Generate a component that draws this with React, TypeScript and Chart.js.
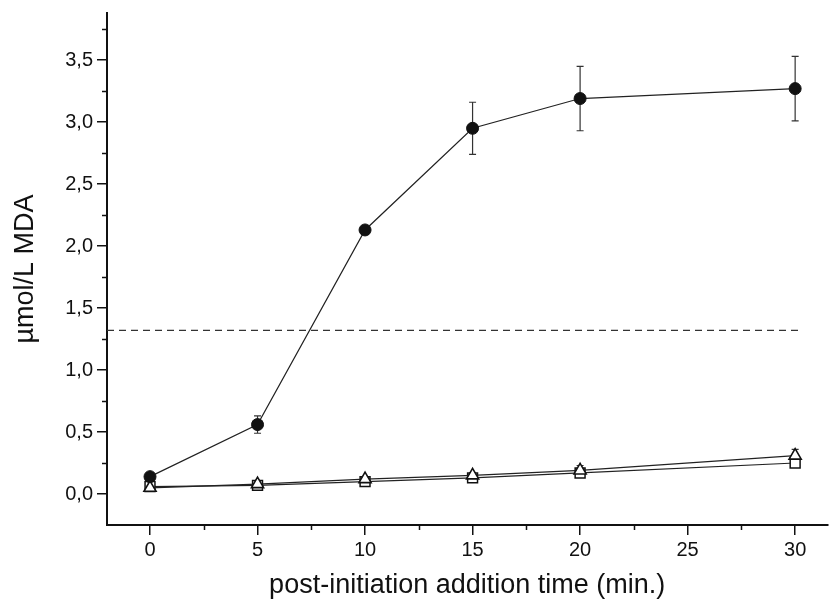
import { useEffect, useRef } from "react";
import { Chart, registerables } from "chart.js";

Chart.register(...registerables);

// Sampling times (min) after initiation
const times = [0, 5, 10, 15, 20, 30];

// MDA (µmol/L) — filled circles, open triangles, open squares, with SD
const mdaCircle = [0.14, 0.56, 2.13, 2.95, 3.19, 3.27];
const errCircle = [0.03, 0.07, 0.02, 0.21, 0.26, 0.26];
const mdaTriangle = [0.05, 0.08, 0.12, 0.15, 0.19, 0.31];
const errTriangle = [0.02, 0.02, 0.02, 0.02, 0.04, 0.05];
const mdaSquare = [0.06, 0.07, 0.1, 0.13, 0.17, 0.25];
const errSquare = [0.02, 0.01, 0.01, 0.01, 0.02, 0.03];

// Reference level drawn as a dashed line
const thresholdLevel = 1.32;
const thresholdSpan = [-2, 30.2];

// Axis ticks
const xTickValues = [0, 5, 10, 15, 20, 25, 30];
const xMinorValues = [2.5, 7.5, 12.5, 17.5, 22.5, 27.5];
const yTickValues = [0, 0.5, 1, 1.5, 2, 2.5, 3, 3.5];
const yMinorValues = [0.25, 0.75, 1.25, 1.75, 2.25, 2.75, 3.25, 3.75];

const FONT = '"Liberation Sans", Arial, Helvetica, sans-serif';
const INK = "#111";

const pts = (ys: number[]) => times.map((t, i) => ({ x: t, y: ys[i] }));

export default function App() {
  const canvasRef = useRef<HTMLCanvasElement | null>(null);

  useEffect(() => {
    const canvas = canvasRef.current;
    if (!canvas) return;

    const errorsByDataset: Record<number, number[]> = {
      0: errSquare,
      1: errTriangle,
      2: errCircle,
    };

    const errorBars = {
      id: "errorBars",
      beforeDatasetsDraw(chart: any) {
        const { ctx } = chart;
        const xs = chart.scales.x;
        const ys = chart.scales.y;
        ctx.save();
        ctx.strokeStyle = "#333";
        ctx.lineWidth = 1.2;
        Object.keys(errorsByDataset).forEach((k) => {
          const idx = Number(k);
          const ds = chart.data.datasets[idx];
          const errs = errorsByDataset[idx];
          ds.data.forEach((p: any, i: number) => {
            const px = xs.getPixelForValue(p.x);
            const top = ys.getPixelForValue(p.y + errs[i]);
            const bot = ys.getPixelForValue(p.y - errs[i]);
            ctx.beginPath();
            ctx.moveTo(px, top);
            ctx.lineTo(px, bot);
            ctx.moveTo(px - 3.5, top);
            ctx.lineTo(px + 3.5, top);
            ctx.moveTo(px - 3.5, bot);
            ctx.lineTo(px + 3.5, bot);
            ctx.stroke();
          });
        });
        ctx.restore();
      },
    };

    const minorTicks = {
      id: "minorTicks",
      afterDraw(chart: any) {
        const { ctx, chartArea } = chart;
        const xs = chart.scales.x;
        const ys = chart.scales.y;
        ctx.save();
        ctx.strokeStyle = INK;
        ctx.lineWidth = 1.5;
        ctx.beginPath();
        xMinorValues.forEach((v) => {
          const px = Math.round(xs.getPixelForValue(v)) + 0.5;
          ctx.moveTo(px, chartArea.bottom);
          ctx.lineTo(px, chartArea.bottom + 5);
        });
        yMinorValues.forEach((v) => {
          const py = Math.round(ys.getPixelForValue(v)) + 0.5;
          ctx.moveTo(chartArea.left, py);
          ctx.lineTo(chartArea.left - 5, py);
        });
        ctx.stroke();
        ctx.restore();
      },
    };

    const chart = new Chart(canvas, {
      type: "line",
      data: {
        datasets: [
          {
            label: "squares",
            order: 3,
            data: pts(mdaSquare),
            borderColor: "#222",
            borderWidth: 1.2,
            pointStyle: "rect",
            pointRadius: 7,
            pointBackgroundColor: "#fff",
            pointBorderColor: "#111",
            pointBorderWidth: 1.5,
          },
          {
            label: "triangles",
            order: 2,
            data: pts(mdaTriangle),
            borderColor: "#222",
            borderWidth: 1.2,
            pointStyle: "triangle",
            pointRadius: 7,
            pointBackgroundColor: "#fff",
            pointBorderColor: "#111",
            pointBorderWidth: 1.6,
          },
          {
            label: "circles",
            order: 1,
            data: pts(mdaCircle),
            borderColor: "#222",
            borderWidth: 1.2,
            pointStyle: "circle",
            pointRadius: 6,
            pointBackgroundColor: "#111",
            pointBorderColor: "#111",
            pointBorderWidth: 1,
          },
          {
            label: "threshold",
            order: 4,
            data: thresholdSpan.map((x) => ({ x, y: thresholdLevel })),
            borderColor: "#333",
            borderWidth: 1.3,
            borderDash: [7, 5],
            pointRadius: 0,
          },
        ],
      },
      options: {
        responsive: false,
        animation: false,
        devicePixelRatio: 1,
        layout: { padding: { top: 13, right: 2, left: 0, bottom: 0 } },
        plugins: {
          legend: { display: false },
          tooltip: { enabled: false },
        },
        scales: {
          x: {
            type: "linear",
            min: -2,
            max: 31.5,
            afterBuildTicks: (s: any) => {
              s.ticks = xTickValues.map((v) => ({ value: v }));
            },
            afterFit: (s: any) => {
              s.height = 80;
              s.paddingLeft = 0;
              s.paddingRight = 0;
            },
            grid: {
              drawOnChartArea: false,
              drawTicks: true,
              tickLength: 10,
              color: INK,
              lineWidth: 1.5,
            },
            border: { display: true, color: INK, width: 2 },
            ticks: {
              color: INK,
              font: { family: FONT, size: 20 },
              padding: 3,
              maxRotation: 0,
              autoSkip: false,
              callback: (v: any) => String(v),
            },
            title: {
              display: true,
              text: "post-initiation addition time (min.)",
              color: INK,
              font: { family: FONT, size: 27 },
              padding: { top: 0, bottom: 3 },
            },
          },
          y: {
            type: "linear",
            min: -0.25,
            max: 3.88,
            afterBuildTicks: (s: any) => {
              s.ticks = yTickValues.map((v) => ({ value: v }));
            },
            afterFit: (s: any) => {
              s.width = 107;
              s.paddingTop = 0;
              s.paddingBottom = 0;
            },
            grid: {
              drawOnChartArea: false,
              drawTicks: true,
              tickLength: 10,
              color: INK,
              lineWidth: 1.5,
            },
            border: { display: true, color: INK, width: 2 },
            ticks: {
              color: INK,
              font: { family: FONT, size: 20 },
              padding: 4,
              callback: (v: any) => Number(v).toFixed(1).replace(".", ","),
            },
            title: {
              display: true,
              text: "µmol/L MDA",
              color: INK,
              font: { family: FONT, size: 27 },
              padding: { top: 9, bottom: 0 },
            },
          },
        },
      },
      plugins: [errorBars, minorTicks],
    } as any);

    return () => chart.destroy();
  }, []);

  return (
    <div style={{ position: "absolute", left: 0, top: 0, width: 836, height: 605, background: "#fff" }}>
      <canvas ref={canvasRef} width={836} height={605} style={{ display: "block" }} />
    </div>
  );
}
